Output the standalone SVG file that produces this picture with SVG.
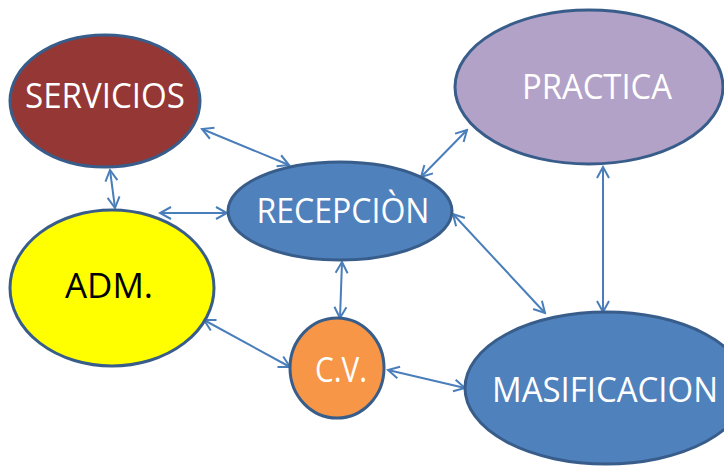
<svg xmlns="http://www.w3.org/2000/svg" width="724" height="466" viewBox="0 0 724 466">
<style>
  .node { stroke: #385d8a; stroke-width: 3; }
  .lbl { font-family: "Open Sans", "Liberation Sans", sans-serif; font-size: 34px; fill: #ffffff; text-anchor: middle; }
  .dark { fill: #000000; }
  .conn { stroke: #4a7ebb; stroke-width: 2; fill: none; marker-start: url(#ah); marker-end: url(#ah); }
</style>
<defs>
  <marker id="ah" markerUnits="userSpaceOnUse" viewBox="-13 -8 15 16" refX="0" refY="0" markerWidth="15" markerHeight="16" orient="auto-start-reverse">
    <path d="M-11,-6 L0,0 L-11,6" fill="none" stroke="#4a7ebb" stroke-width="2"/>
  </marker>
</defs>
<rect width="724" height="466" fill="#ffffff"/>
<g id="connectors">
  <line class="conn" x1="202" y1="129" x2="289" y2="165"/>
  <line class="conn" x1="110" y1="170" x2="115" y2="208"/>
  <line class="conn" x1="160" y1="213" x2="227" y2="213"/>
  <line class="conn" x1="421" y1="177" x2="467" y2="130"/>
  <line class="conn" x1="453" y1="214" x2="545" y2="313"/>
  <line class="conn" x1="603" y1="167" x2="603" y2="312"/>
  <line class="conn" x1="342" y1="262" x2="340" y2="318"/>
  <line class="conn" x1="204" y1="320" x2="290" y2="367"/>
  <line class="conn" x1="388" y1="370" x2="465" y2="388"/>
</g>
<g id="servicios">
  <ellipse class="node" cx="105" cy="101" rx="95" ry="66" fill="#953735"/>
  <text class="lbl" x="105" y="108" textLength="160" lengthAdjust="spacingAndGlyphs">SERVICIOS</text>
</g>
<g id="practica">
  <ellipse class="node" cx="589" cy="87" rx="134" ry="77" fill="#b3a2c7"/>
  <text class="lbl" x="597" y="99" textLength="150" lengthAdjust="spacingAndGlyphs">PRACTICA</text>
</g>
<g id="recepcion">
  <ellipse class="node" cx="340" cy="211" rx="112" ry="49" fill="#4f81bd"/>
  <text class="lbl" x="343" y="223" textLength="173" lengthAdjust="spacingAndGlyphs">RECEPCIÒN</text>
</g>
<g id="adm">
  <ellipse class="node" cx="112" cy="288" rx="102" ry="78" fill="#ffff00"/>
  <text class="lbl dark" x="109" y="298" textLength="88" lengthAdjust="spacingAndGlyphs">ADM.</text>
</g>
<g id="cv">
  <ellipse class="node" cx="337" cy="368" rx="47" ry="50" fill="#f79646"/>
  <text class="lbl" x="341" y="382" textLength="52" lengthAdjust="spacingAndGlyphs">C.V.</text>
</g>
<g id="masificacion">
  <ellipse class="node" cx="606" cy="388" rx="141" ry="76" fill="#4f81bd"/>
  <text class="lbl" x="605" y="402" textLength="226" lengthAdjust="spacingAndGlyphs">MASIFICACION</text>
</g>
</svg>
